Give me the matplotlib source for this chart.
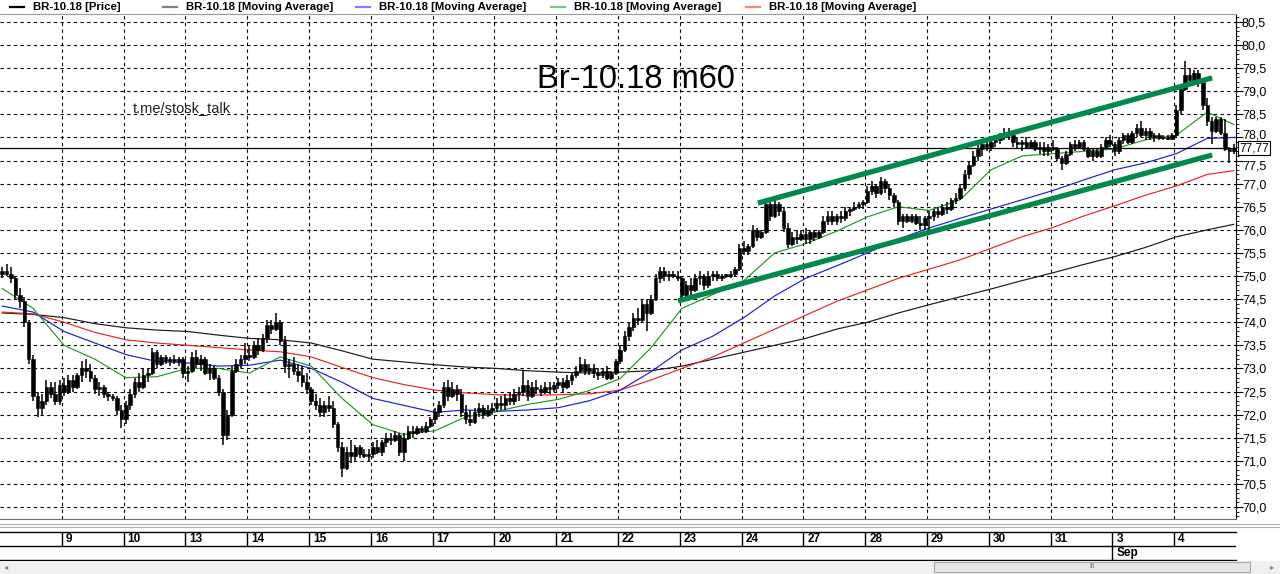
import matplotlib
matplotlib.use('Agg')
import matplotlib.pyplot as plt
from matplotlib.lines import Line2D
from matplotlib.patches import Rectangle
from matplotlib.ticker import MultipleLocator, NullFormatter
from matplotlib.transforms import blended_transform_factory, ScaledTranslation
import numpy as np

plt.rcParams['font.family'] = ['Liberation Sans', 'DejaVu Sans']

# ---------------- data ----------------
days = ['8', '9', '10', '13', '14', '15', '16', '17', '20', '21', '22',
        '23', '24', '27', '28', '29', '30', '31', '3', '4']
month_day_index = 18          # "Sep" starts at day "3"
month_label = 'Sep'
bars_per_day = 14

opens = [
    75.05, 75.1, 75.05, 74.95, 74.6, 74.45, 74.0, 73.2, 72.4, 72.15, 72.3, 72.6, 72.45, 72.3,
    72.65, 72.5, 72.75, 72.6, 72.85, 73.0, 72.95, 72.8, 72.55, 72.6, 72.45, 72.4, 72.35, 72.1,
    71.9, 72.2, 72.45, 72.7, 72.6, 72.85, 72.9, 73.35, 73.1, 73.25, 73.15, 73.2, 73.15, 73.2,
    72.9, 72.95, 73.25, 73.1, 73.2, 72.9, 73.0, 72.8, 72.5, 71.55, 72.0, 72.95, 73.1, 73.2,
    73.3, 73.25, 73.5, 73.4, 73.65, 73.95, 73.85, 74.0, 73.6, 73.05, 73.1, 72.95, 72.85, 72.7,
    72.55, 72.3, 72.2, 72.05, 72.2, 72.15, 71.8, 71.3, 70.85, 71.2, 71.1, 71.3, 71.15, 71.1,
    71.15, 71.3, 71.2, 71.4, 71.5, 71.45, 71.55, 71.2, 71.5, 71.65, 71.6, 71.7, 71.65, 71.75,
    71.9, 72.05, 72.2, 72.6, 72.4, 72.55, 72.45, 72.05, 71.9, 71.85, 72.05, 72.15, 72.0, 72.1,
    72.15, 72.25, 72.2, 72.35, 72.3, 72.45, 72.5, 72.65, 72.4, 72.6, 72.55, 72.5, 72.6, 72.55,
    72.65, 72.7, 72.6, 72.75, 72.85, 72.95, 73.1, 72.95, 73.0, 72.9, 72.85, 72.95, 72.8, 72.9,
    73.15, 73.4, 73.7, 73.9, 74.1, 74.05, 74.4, 74.2, 74.5, 74.95, 75.1, 75.0, 75.05, 75.0,
    74.95, 74.6, 74.8, 74.7, 74.95, 75.0, 74.8, 75.0, 75.05, 74.95, 75.0, 75.0, 75.05, 75.15,
    75.6, 75.55, 75.65, 76.0, 75.85, 75.95, 76.55, 76.3, 76.55, 76.4, 76.05, 75.7, 75.85, 75.8,
    75.9, 75.8, 75.95, 75.85, 75.95, 76.2, 76.3, 76.2, 76.3, 76.25, 76.4, 76.45, 76.5, 76.55,
    76.6, 76.85, 76.95, 76.8, 77.05, 76.9, 76.75, 76.6, 76.2, 76.3, 76.2, 76.3, 76.15, 76.1,
    76.25, 76.3, 76.4, 76.35, 76.5, 76.45, 76.65, 76.7, 76.9, 77.2, 77.4, 77.6, 77.75, 77.85,
    77.8, 77.9, 77.95, 78.0, 78.1, 78.05, 77.9, 77.85, 77.9, 77.8, 77.9, 77.75, 77.8, 77.7,
    77.8, 77.75, 77.55, 77.45, 77.65, 77.85, 77.8, 77.9, 77.75, 77.6, 77.7, 77.6, 77.8, 77.95,
    77.85, 77.7, 77.95, 78.05, 77.9, 78.1, 78.2, 78.05, 78.15, 78.0, 78.05, 77.98, 78.0, 77.97,
    78.05, 78.6, 79.05, 79.35, 79.25, 79.4, 79.2, 78.7, 78.35, 78.15, 78.4, 78.1, 77.75, 77.7,
]
highs = [
    75.2, 75.25, 75.2, 75.0, 74.75, 74.55, 74.05, 73.3, 72.5, 72.45, 72.75, 72.7, 72.7, 72.75,
    72.8, 72.85, 72.85, 72.9, 73.15, 73.2, 73.1, 72.85, 72.7, 72.65, 72.5, 72.45, 72.4, 72.2,
    72.3, 72.55, 72.8, 72.9, 73.0, 73.0, 73.45, 73.4, 73.3, 73.3, 73.25, 73.3, 73.25, 73.25,
    73.05, 73.35, 73.4, 73.3, 73.25, 73.1, 73.05, 72.85, 72.55, 72.1, 73.05, 73.2, 73.3, 73.55,
    73.5, 73.6, 73.65, 73.75, 74.05, 74.05, 74.2, 74.05, 73.7, 73.2, 73.25, 73.1, 73.05, 72.9,
    72.6, 72.45, 72.35, 72.3, 72.4, 72.3, 71.85, 71.4, 71.3, 71.45, 71.35, 71.35, 71.25, 71.25,
    71.4, 71.45, 71.45, 71.6, 71.6, 71.65, 71.6, 71.6, 71.75, 71.75, 71.75, 71.75, 71.85, 71.95,
    72.15, 72.3, 72.7, 72.75, 72.7, 72.65, 72.55, 72.2, 72.1, 72.15, 72.25, 72.2, 72.2, 72.25,
    72.35, 72.4, 72.45, 72.5, 72.55, 72.6, 72.95, 72.75, 72.7, 72.75, 72.65, 72.7, 72.7, 72.7,
    72.8, 72.8, 72.85, 72.9, 73.05, 73.25, 73.2, 73.1, 73.1, 73.0, 73.0, 73.05, 72.95, 73.2,
    73.5, 73.8, 74.0, 74.2, 74.3, 74.5, 74.5, 74.6, 75.05, 75.2, 75.2, 75.1, 75.1, 75.1,
    75.0, 74.9, 74.95, 75.05, 75.1, 75.05, 75.1, 75.1, 75.1, 75.05, 75.05, 75.1, 75.2, 75.7,
    75.75, 75.7, 76.1, 76.05, 76.0, 76.7, 76.65, 76.65, 76.6, 76.5, 76.15, 75.95, 76.0, 76.0,
    76.05, 76.0, 76.0, 76.0, 76.3, 76.4, 76.4, 76.35, 76.4, 76.5, 76.5, 76.6, 76.6, 76.65,
    76.95, 77.05, 77.0, 77.15, 77.1, 77.0, 76.8, 76.65, 76.35, 76.35, 76.35, 76.35, 76.3, 76.3,
    76.4, 76.45, 76.5, 76.55, 76.6, 76.7, 76.8, 77.0, 77.3, 77.5, 77.7, 77.85, 77.9, 77.95,
    78.0, 78.05, 78.1, 78.2, 78.2, 78.1, 78.0, 77.95, 78.0, 77.95, 77.95, 77.9, 77.9, 77.85,
    77.95, 77.8, 77.6, 77.7, 77.9, 77.95, 77.95, 77.95, 77.8, 77.75, 77.75, 77.85, 78.0, 78.05,
    77.9, 78.0, 78.1, 78.1, 78.15, 78.3, 78.35, 78.2, 78.2, 78.1, 78.1, 78.05, 78.05, 78.1,
    78.7, 79.1, 79.65, 79.5, 79.45, 79.45, 79.25, 78.85, 78.45, 78.45, 78.45, 78.4, 77.8, 77.85,
]
lows = [
    74.95, 75.0, 74.85, 74.5, 74.3, 73.9, 73.1, 72.3, 71.95, 72.0, 72.2, 72.35, 72.2, 72.2,
    72.4, 72.45, 72.5, 72.55, 72.7, 72.8, 72.7, 72.45, 72.4, 72.35, 72.3, 72.3, 72.0, 71.7,
    71.8, 72.1, 72.35, 72.5, 72.55, 72.7, 72.85, 73.0, 73.05, 73.1, 73.05, 73.1, 73.05, 72.8,
    72.7, 72.9, 73.0, 72.95, 72.85, 72.75, 72.75, 72.4, 71.35, 71.45, 71.95, 72.9, 73.0, 73.1,
    73.15, 73.2, 73.3, 73.35, 73.55, 73.75, 73.8, 73.5, 72.9, 72.8, 72.85, 72.7, 72.6, 72.45,
    72.2, 72.1, 71.95, 71.95, 72.05, 71.7, 71.2, 70.65, 70.8, 70.95, 71.0, 71.05, 71.05, 71.0,
    71.05, 71.15, 71.1, 71.3, 71.35, 71.4, 71.1, 71.0, 71.45, 71.5, 71.55, 71.6, 71.6, 71.7,
    71.8, 71.95, 72.15, 72.3, 72.35, 72.3, 71.95, 71.8, 71.75, 71.8, 71.95, 71.9, 71.95, 72.0,
    72.05, 72.1, 72.1, 72.2, 72.2, 72.3, 72.4, 72.3, 72.35, 72.45, 72.4, 72.45, 72.45, 72.5,
    72.55, 72.5, 72.55, 72.65, 72.8, 72.9, 72.85, 72.85, 72.8, 72.75, 72.8, 72.75, 72.75, 72.85,
    73.1, 73.35, 73.6, 73.8, 73.95, 74.0, 73.8, 74.15, 74.45, 74.85, 74.9, 74.9, 74.95, 74.9,
    74.5, 74.55, 74.6, 74.65, 74.8, 74.7, 74.75, 74.9, 74.9, 74.9, 74.95, 74.95, 75.0, 75.1,
    75.45, 75.45, 75.6, 75.75, 75.8, 75.9, 76.2, 76.25, 76.3, 75.95, 75.6, 75.65, 75.7, 75.75,
    75.7, 75.7, 75.75, 75.8, 75.9, 76.1, 76.1, 76.1, 76.15, 76.2, 76.3, 76.4, 76.45, 76.45,
    76.55, 76.75, 76.7, 76.75, 76.8, 76.65, 76.5, 76.1, 76.05, 76.15, 76.15, 76.1, 76.0, 76.0,
    76.0, 76.2, 76.25, 76.3, 76.35, 76.4, 76.55, 76.65, 76.85, 77.1, 77.35, 77.5, 77.6, 77.7,
    77.7, 77.8, 77.85, 77.95, 77.95, 77.8, 77.75, 77.7, 77.75, 77.75, 77.7, 77.65, 77.6, 77.6,
    77.7, 77.5, 77.3, 77.4, 77.6, 77.7, 77.75, 77.7, 77.55, 77.5, 77.55, 77.55, 77.75, 77.8,
    77.6, 77.65, 77.85, 77.85, 77.85, 78.0, 78.0, 77.95, 77.95, 77.9, 77.95, 77.95, 77.95, 77.95,
    78.0, 78.5, 79.0, 79.15, 79.2, 79.1, 78.6, 78.25, 77.85, 78.1, 78.05, 77.7, 77.45, 77.65,
]
closes = [
    75.1, 75.05, 74.95, 74.6, 74.45, 74.0, 73.2, 72.4, 72.15, 72.3, 72.6, 72.45, 72.3, 72.65,
    72.5, 72.75, 72.6, 72.85, 73.0, 72.95, 72.8, 72.55, 72.6, 72.45, 72.4, 72.35, 72.1, 71.9,
    72.2, 72.45, 72.7, 72.6, 72.85, 72.9, 73.35, 73.1, 73.25, 73.15, 73.2, 73.15, 73.2, 72.9,
    72.95, 73.25, 73.1, 73.2, 72.9, 73.0, 72.8, 72.5, 71.55, 72.0, 72.95, 73.1, 73.2, 73.3,
    73.25, 73.5, 73.4, 73.65, 73.95, 73.85, 74.0, 73.6, 73.05, 73.1, 72.95, 72.85, 72.7, 72.55,
    72.3, 72.2, 72.05, 72.2, 72.15, 71.8, 71.3, 70.85, 71.2, 71.1, 71.3, 71.15, 71.1, 71.15,
    71.3, 71.2, 71.4, 71.5, 71.45, 71.55, 71.2, 71.5, 71.65, 71.6, 71.7, 71.65, 71.75, 71.9,
    72.05, 72.2, 72.6, 72.4, 72.55, 72.45, 72.05, 71.9, 71.85, 72.05, 72.15, 72.0, 72.1, 72.15,
    72.25, 72.2, 72.35, 72.3, 72.45, 72.5, 72.65, 72.4, 72.6, 72.55, 72.5, 72.6, 72.55, 72.65,
    72.7, 72.6, 72.75, 72.85, 72.95, 73.1, 72.95, 73.0, 72.9, 72.85, 72.95, 72.8, 72.9, 73.15,
    73.4, 73.7, 73.9, 74.1, 74.05, 74.4, 74.2, 74.5, 74.95, 75.1, 75.0, 75.05, 75.0, 74.95,
    74.6, 74.8, 74.7, 74.95, 75.0, 74.8, 75.0, 75.05, 74.95, 75.0, 75.0, 75.05, 75.15, 75.6,
    75.55, 75.65, 76.0, 75.85, 75.95, 76.55, 76.3, 76.55, 76.4, 76.05, 75.7, 75.85, 75.8, 75.9,
    75.8, 75.95, 75.85, 75.95, 76.2, 76.3, 76.2, 76.3, 76.25, 76.4, 76.45, 76.5, 76.55, 76.6,
    76.85, 76.95, 76.8, 77.05, 76.9, 76.75, 76.6, 76.2, 76.3, 76.2, 76.3, 76.15, 76.1, 76.25,
    76.3, 76.4, 76.35, 76.5, 76.45, 76.65, 76.7, 76.9, 77.2, 77.4, 77.6, 77.75, 77.85, 77.8,
    77.9, 77.95, 78.0, 78.1, 78.05, 77.9, 77.85, 77.9, 77.8, 77.9, 77.75, 77.8, 77.7, 77.8,
    77.75, 77.55, 77.45, 77.65, 77.85, 77.8, 77.9, 77.75, 77.6, 77.7, 77.6, 77.8, 77.95, 77.85,
    77.7, 77.95, 78.05, 77.9, 78.1, 78.2, 78.05, 78.15, 78.0, 78.05, 77.98, 78.0, 77.97, 78.05,
    78.6, 79.05, 79.35, 79.25, 79.4, 79.2, 78.7, 78.35, 78.15, 78.4, 78.1, 77.75, 77.7, 77.77,
]

# moving averages sampled every 7 bars (bar index)
ma_idx = list(range(0, 274, 7)) + [279]
ma_black = [74.2, 74.17, 74.1, 73.97, 73.88, 73.83, 73.8, 73.72, 73.65, 73.62,
            73.55, 73.38, 73.2, 73.14, 73.08, 73.03, 73.0, 72.95, 72.92, 72.9,
            72.92, 72.95, 73.05, 73.2, 73.35, 73.5, 73.65, 73.85, 74.0, 74.2,
            74.38, 74.55, 74.72, 74.9, 75.07, 75.25, 75.42, 75.62, 75.85, 76.0, 76.12]
ma_red = [74.22, 74.18, 74.0, 73.78, 73.62, 73.55, 73.5, 73.45, 73.4, 73.36,
          73.25, 73.02, 72.8, 72.65, 72.53, 72.47, 72.43, 72.42, 72.43, 72.45,
          72.53, 72.75, 73.0, 73.25, 73.55, 73.85, 74.15, 74.45, 74.7, 74.95,
          75.15, 75.35, 75.6, 75.85, 76.05, 76.3, 76.52, 76.75, 76.95, 77.2, 77.28]
ma_blue = [74.35, 74.22, 73.8, 73.55, 73.3, 73.15, 73.12, 73.05, 73.07, 73.18,
           73.0, 72.7, 72.35, 72.2, 72.05, 72.1, 72.07, 72.1, 72.15, 72.3,
           72.53, 72.93, 73.4, 73.7, 74.1, 74.57, 74.95, 75.22, 75.5, 75.8,
           76.04, 76.25, 76.45, 76.65, 76.85, 77.08, 77.3, 77.45, 77.65, 77.98, 78.0]
ma_green = [74.73, 74.3, 73.5, 73.2, 72.8, 72.82, 73.0, 73.0, 72.9, 73.25,
            73.05, 72.35, 71.78, 71.57, 71.65, 71.95, 72.07, 72.22, 72.33, 72.52,
            72.78, 73.45, 74.3, 74.6, 74.9, 75.5, 75.7, 75.97, 76.28, 76.5,
            76.42, 76.65, 77.3, 77.6, 77.65, 77.7, 77.75, 77.95, 78.05, 78.55, 78.28]

# channel lines (bar index, price)
upper_x = [171.2, 274.1]
upper_y = [76.58, 79.29]
lower_x = [153.1, 274.1]
lower_y = [74.46, 77.62]
last_price = 77.77

title = 'Br-10.18 m60'
watermark = 't.me/stosk_talk'
legend_labels = ['BR-10.18 [Price]', 'BR-10.18 [Moving Average]', 'BR-10.18 [Moving Average]',
                 'BR-10.18 [Moving Average]', 'BR-10.18 [Moving Average]']
legend_colors = ['#000000', '#808080', '#8080ff', '#80c080', '#ff8080']

# ---------------- figure ----------------
W, H = 1280, 574
fig = plt.figure(figsize=(W / 100, H / 100), dpi=100)
fig.patch.set_facecolor('white')

def fx(px):
    return px / W

def fy(py):
    return 1 - py / H

ax_left, ax_right, ax_top, ax_bot = 0, 1236, 14, 519
ax = fig.add_axes([fx(ax_left), fy(ax_bot), fx(ax_right - ax_left), (ax_bot - ax_top) / H])

n = len(closes)
x = np.arange(n)
o = np.array(opens); c = np.array(closes); h = np.array(highs); l = np.array(lows)

ax.set_xlim(-0.5, n - 0.5)
ax.set_ylim(69.74, 80.673)

# grid
boundaries = [k * bars_per_day - 0.5 for k in range(1, len(days))]
for b in boundaries:
    ax.axvline(b, color='black', lw=0.8, ls=(0, (3, 3)), zorder=0)
grid_levels = np.arange(70.0, 80.51, 0.5)
for v in grid_levels:
    ax.axhline(v, color='black', lw=0.8, ls=(0, (3, 3)), zorder=0)

# moving averages
ax.plot(ma_idx, ma_black, color='#1a1a1a', lw=0.85, zorder=2)
ax.plot(ma_idx, ma_red, color='#e8261e', lw=0.85, zorder=2)
ax.plot(ma_idx, ma_blue, color='#1c1ce0', lw=0.85, zorder=2)
ax.plot(ma_idx, ma_green, color='#1f9a1f', lw=0.85, zorder=2)

# candles
ax.vlines(x, l, h, color='black', lw=1.1, zorder=3)
body_low = np.minimum(o, c)
body_h = np.maximum(np.abs(c - o), 0.035)
ax.bar(x, body_h, bottom=body_low, width=0.8, color='black', edgecolor='black',
       linewidth=0.4, zorder=3)

# last price line
ax.axhline(last_price, color='black', lw=0.9, zorder=2)

# channel
ax.plot(upper_x, upper_y, color='#00894a', lw=3.8, solid_capstyle='butt', zorder=4)
ax.plot(lower_x, lower_y, color='#00894a', lw=3.8, solid_capstyle='butt', zorder=4)

# axes style
ax.set_xticks([])
ax.yaxis.tick_right()
ax.yaxis.set_major_locator(MultipleLocator(0.5))
ax.yaxis.set_minor_locator(MultipleLocator(0.1))
ax.yaxis.set_major_formatter(NullFormatter())
ax.tick_params(axis='y', which='major', length=5, width=0.8, pad=2, colors='black')
ax.tick_params(axis='y', which='minor', length=2.5, width=0.6)
ax.spines['left'].set_visible(False)
ax.spines['top'].set_color('#9a9a9a')
ax.spines['bottom'].set_color('#707070')
ax.spines['right'].set_color('black')
for s in ax.spines.values():
    s.set_linewidth(0.8)

# tick labels drawn as texts, nudged away from the price box like the reference
trans = blended_transform_factory(ax.transAxes, ax.transData)
label_x = 1 + 6 / 1236
for v in grid_levels:
    off = 0
    if abs(v - 78.0) < 1e-6:
        off = 3
    elif abs(v - 77.5) < 1e-6:
        off = -4
    t = trans + ScaledTranslation(0, off / 100, fig.dpi_scale_trans)
    ax.text(label_x, v, f"{v:.1f}".replace('.', ','), transform=t, fontsize=9,
            va='center_baseline', ha='left', clip_on=False)

ax.text(1.0025, last_price, f"{last_price:.2f}".replace('.', ','), transform=trans,
        fontsize=8.5, va='center', ha='left', zorder=10, clip_on=False,
        bbox=dict(boxstyle='square,pad=0.08', fc='white', ec='black', lw=0.8))

# texts
fig.text(fx(636), fy(80), title, fontsize=23.5, ha='center', va='center', color='black')
fig.text(fx(133), fy(108), watermark, fontsize=10.5, ha='left', va='center', color='#202020')

# legend
leg_x = [10, 163, 356, 551, 746]
for lx, lab, col in zip(leg_x, legend_labels, legend_colors):
    fig.add_artist(Line2D([fx(lx), fx(lx + 14)], [fy(7), fy(7)], transform=fig.transFigure,
                          color=col, lw=1.6))
    fig.text(fx(lx + 23), fy(7), lab, fontsize=8.2, fontweight='bold', ha='left', va='center')

# separator lines below plot
for py, col in [(524, '#b0b0b0'), (527, '#b0b0b0')]:
    fig.add_artist(Line2D([0, 1], [fy(py), fy(py)], transform=fig.transFigure, color=col, lw=0.8))

# date axis
axd = fig.add_axes([fx(0), fy(560), fx(1236), (560 - 532) / H])
axd.set_xlim(-0.5, n - 0.5)
axd.set_ylim(0, 2)
axd.set_xticks([]); axd.set_yticks([])
for s in ['left', 'right']:
    axd.spines[s].set_visible(False)
for s in ['top', 'bottom']:
    axd.spines[s].set_color('black'); axd.spines[s].set_linewidth(1.0)
axd.axhline(1, color='black', lw=1.0)
for k, b in enumerate(boundaries, start=1):
    ymin = 0 if k == month_day_index else 1
    axd.vlines(b, ymin, 2, color='black', lw=1.0)
    axd.text(b + 0.9, 1.5, days[k], fontsize=8.5, fontweight='bold', ha='left', va='center')
axd.text(boundaries[month_day_index - 1] + 0.9, 0.5, month_label, fontsize=8.5,
         fontweight='bold', ha='left', va='center')

# scroll bar
fig.add_artist(Rectangle((0, 0), 1, fy(561), transform=fig.transFigure,
                         fc='#f0f0f0', ec='none'))
fig.add_artist(Rectangle((fx(934), fy(572)), fx(1250 - 934), (572 - 562) / H,
                         transform=fig.transFigure, fc='#e6e6e6', ec='#a8a8a8', lw=0.8))
fig.text(fx(1092), fy(567), 'III', fontsize=5, ha='center', va='center', color='#707070')
fig.text(fx(6), fy(567), '\u25c2', fontsize=6, ha='center', va='center', color='#808080',
         family='DejaVu Sans')
fig.text(fx(1272), fy(567), '\u25b8', fontsize=6, ha='center', va='center', color='#808080',
         family='DejaVu Sans')

fig.savefig('out.png', dpi=100)
